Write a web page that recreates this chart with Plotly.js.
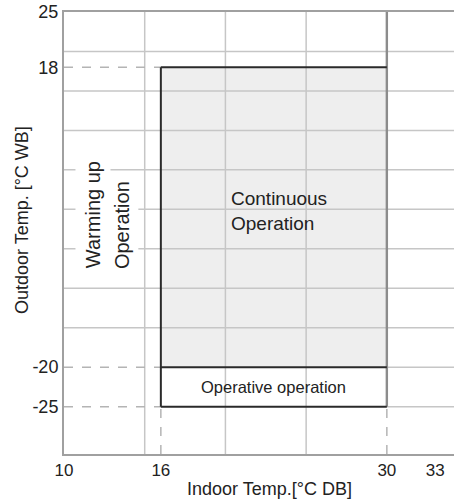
<!DOCTYPE html>
<html>
<head>
<meta charset="utf-8">
<script src="https://cdn.plot.ly/plotly-3.0.1.min.js"></script>
<style>html,body{margin:0;padding:0;background:#fff;}#chart{width:454px;height:504px;}</style>
</head>
<body>
<div id="chart"></div>
<script>
// ---- data ----
const xTickVals = [10, 16, 30, 33];
const yTickVals = [25, 18, -20, -25];
const xRange = [10, 34.16];
const yRange = [-31, 25];
const gridX = [15, 20, 25];
const gridYFull = [20, 15, 10, 5, 0, -5, -10, -15];
const gridYRight = [-20, -25];
const contX = [16, 30];     // continuous operation: indoor range
const contY = [-20, 18];    // continuous operation: outdoor range
const operY = [-25, -20];   // operative operation: outdoor range
const limitX = 30;          // max indoor line

const FONT = 'Liberation Sans, Arial, sans-serif';
const TXT = '#222222';
const GRID = '#c6c6c6';
const DASH = '#b4b4b4';
const DARK = '#2a2a2a';

const shapes = [];
shapes.push({type:'rect', xref:'x', yref:'y', x0:contX[0], x1:contX[1], y0:contY[0], y1:contY[1],
  fillcolor:'#eeeeee', line:{width:0}, layer:'below'});
gridX.forEach(v => shapes.push({type:'line', xref:'x', yref:'y', x0:v, x1:v, y0:yRange[0], y1:yRange[1],
  line:{color:GRID, width:1.5}, layer:'below'}));
gridYFull.forEach(v => shapes.push({type:'line', xref:'x', yref:'y', x0:xRange[0], x1:xRange[1], y0:v, y1:v,
  line:{color:GRID, width:1.5}, layer:'below'}));
gridYRight.forEach(v => shapes.push({type:'line', xref:'x', yref:'y', x0:limitX, x1:xRange[1], y0:v, y1:v,
  line:{color:GRID, width:1.5}, layer:'below'}));
[contY[1], contY[0], operY[0]].forEach(v => shapes.push({type:'line', xref:'x', yref:'y', x0:xRange[0], x1:contX[0], y0:v, y1:v,
  line:{color:DASH, width:1.5, dash:'dash'}, layer:'below'}));
[contX[0], contX[1]].forEach(v => shapes.push({type:'line', xref:'x', yref:'y', x0:v, x1:v, y0:yRange[0], y1:operY[0],
  line:{color:DASH, width:1.5, dash:'dash'}, layer:'below'}));
shapes.push({type:'line', xref:'x', yref:'y', x0:limitX, x1:limitX, y0:operY[0], y1:yRange[1],
  line:{color:'#8c8c8c', width:2.4}, layer:'below'});
shapes.push({type:'line', xref:'x', yref:'y', x0:contX[0], x1:contX[1], y0:contY[1], y1:contY[1], line:{color:DARK, width:2}, layer:'below'});
shapes.push({type:'line', xref:'x', yref:'y', x0:contX[0], x1:contX[0], y0:operY[0], y1:contY[1], line:{color:DARK, width:2}, layer:'below'});
shapes.push({type:'line', xref:'x', yref:'y', x0:contX[0], x1:contX[1], y0:contY[0], y1:contY[0], line:{color:DARK, width:2}, layer:'below'});
shapes.push({type:'line', xref:'x', yref:'y', x0:contX[0], x1:contX[1], y0:operY[0], y1:operY[0], line:{color:DARK, width:2}, layer:'below'});

const annotations = [
  {xref:'x', yref:'y', x:20.2, y:-0.2, xanchor:'left', yanchor:'middle', align:'left', showarrow:false,
   text:'Continuous<br>Operation', font:{family:FONT, size:19, color:TXT}},
  {xref:'x', yref:'y', x:(contX[0]+contX[1])/2, y:(operY[0]+operY[1])/2, xanchor:'center', yanchor:'middle', showarrow:false,
   text:'Operative operation', font:{family:FONT, size:16.5, color:TXT}},
  {xref:'x', yref:'y', x:11.8, y:-0.73, xanchor:'center', yanchor:'middle', showarrow:false, textangle:-90, bgcolor:'#ffffff', borderpad:6,
   text:'Warming up', font:{family:FONT, size:20, color:TXT}},
  {xref:'x', yref:'y', x:13.59, y:-2.0, xanchor:'center', yanchor:'middle', showarrow:false, textangle:-90, bgcolor:'#ffffff', borderpad:5,
   text:'Operation', font:{family:FONT, size:20, color:TXT}},
  {xref:'paper', yref:'paper', x:0.528, y:-0.079, xanchor:'center', yanchor:'middle', showarrow:false,
   text:'Indoor Temp.[°C DB]', font:{family:FONT, size:18, color:TXT}},
  {xref:'paper', yref:'paper', x:-0.108, y:0.529, xanchor:'center', yanchor:'middle', showarrow:false, textangle:-90,
   text:'Outdoor Temp. [°C WB]', font:{family:FONT, size:18, color:TXT}}
];

const layout = {
  width:454, height:504,
  margin:{l:64, r:0, t:12, b:50},
  paper_bgcolor:'#ffffff', plot_bgcolor:'#ffffff',
  showlegend:false,
  font:{family:FONT, color:TXT},
  xaxis:{range:xRange, tickmode:'array', tickvals:xTickVals, ticktext:xTickVals.map(String),
    showgrid:false, zeroline:false, showline:true, linecolor:'#a0a0a0', linewidth:2, mirror:true,
    ticks:'', tickfont:{family:FONT, size:17, color:TXT}, fixedrange:true},
  yaxis:{range:yRange, tickmode:'array', tickvals:yTickVals, ticktext:yTickVals.map(String),
    showgrid:false, zeroline:false, showline:true, linecolor:'#a0a0a0', linewidth:2,
    ticks:'', tickfont:{family:FONT, size:18, color:TXT}, fixedrange:true},
  shapes:shapes,
  annotations:annotations
};

Plotly.newPlot('chart', [{x:[], y:[], type:'scatter', mode:'lines', hoverinfo:'skip'}], layout, {displayModeBar:false, staticPlot:true});
</script>
</body>
</html>
